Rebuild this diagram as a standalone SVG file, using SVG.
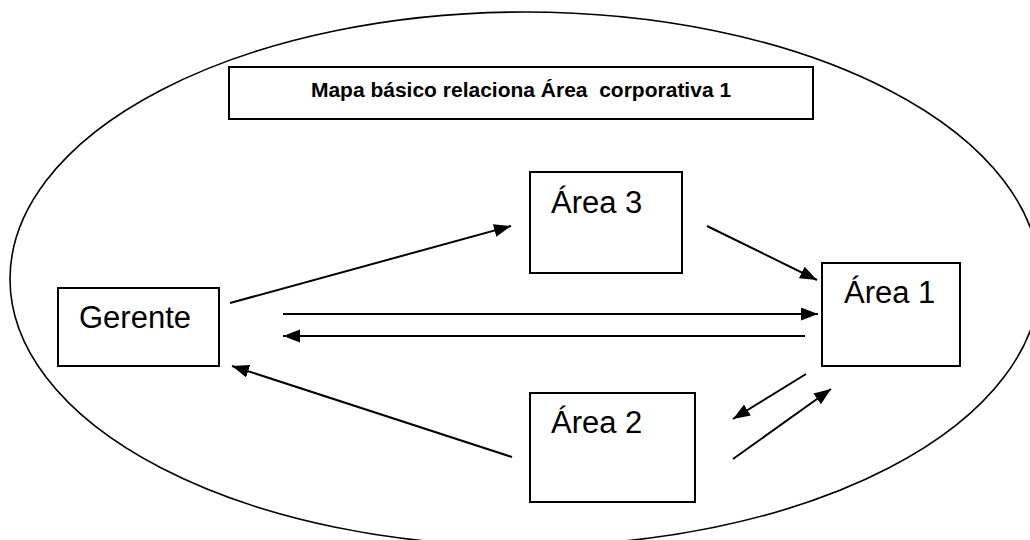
<svg xmlns="http://www.w3.org/2000/svg" width="1030" height="540" viewBox="0 0 1030 540">
<style>
.box{fill:#fff;stroke:#000;stroke-width:2}
.lbl{font-family:"Liberation Sans",Arial,sans-serif;font-size:31px;fill:#000}
.title{font-family:"Liberation Sans",Arial,sans-serif;font-size:21px;font-weight:bold;fill:#000}
.con{stroke:#000;stroke-width:2;fill:none;marker-end:url(#ah)}
</style>
<defs>
<marker id="ah" markerUnits="userSpaceOnUse" markerWidth="18" markerHeight="14" refX="17" refY="6.5" orient="auto">
<path d="M0,0 L17,6.5 L0,13 z" fill="#000"/>
</marker>
</defs>
<rect width="1030" height="540" fill="#fff"/>
<ellipse id="boundary" cx="525" cy="279" rx="515" ry="267" fill="none" stroke="#000" stroke-width="1.6"/>
<g id="title">
<rect class="box" x="229" y="67" width="584" height="52"/>
<text class="title" x="521" y="97" text-anchor="middle" xml:space="preserve">Mapa básico relaciona Área  corporativa 1</text>
</g>
<g id="gerente">
<rect class="box" x="58" y="288" width="161" height="78"/>
<text class="lbl" x="79" y="328">Gerente</text>
</g>
<g id="area3">
<rect class="box" x="530" y="172" width="152" height="101"/>
<text class="lbl" x="551" y="213">Área 3</text>
</g>
<g id="area1">
<rect class="box" x="822" y="263" width="138" height="103"/>
<text class="lbl" x="844" y="303">Área 1</text>
</g>
<g id="area2">
<rect class="box" x="530" y="393" width="165" height="109"/>
<text class="lbl" x="551" y="433">Área 2</text>
</g>
<g id="connectors">
<line class="con" x1="230" y1="303" x2="511" y2="226"/>
<line class="con" x1="707" y1="226" x2="817" y2="280"/>
<line class="con" x1="283" y1="314" x2="818" y2="314"/>
<line class="con" x1="805" y1="336" x2="283" y2="336"/>
<line class="con" x1="512" y1="457" x2="232" y2="366"/>
<line class="con" x1="806" y1="374" x2="733" y2="419"/>
<line class="con" x1="733" y1="459" x2="831" y2="389"/>
</g>
</svg>
